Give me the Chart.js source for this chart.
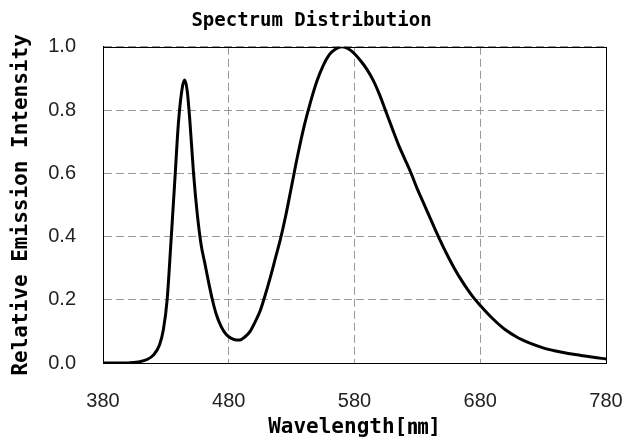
<!DOCTYPE html>
<html>
<head>
<meta charset="utf-8">
<script src="https://cdn.jsdelivr.net/npm/chart.js@4"></script>
<style>
  html, body { margin: 0; padding: 0; background: #fff; }
  #wrap { width: 623px; height: 446px; }
</style>
</head>
<body>
<div id="wrap"><canvas id="c" width="623" height="446"></canvas></div>
<script>
const wavelengths = [380,390,400,405,410,415,420,425,428,431,434,437,440,443,445,447,449,452,455,458,461,464,467,470,474,478,482,486,489,493,497,501,505,509,513,517,521,525,530,535,540,545,550,555,560,565,570,575,580,585,590,595,600,605,610,615,620,625,630,635,640,645,650,655,660,665,670,675,680,690,700,710,720,730,740,750,760,770,780];
const intensity = [0,0,0,0.002,0.005,0.011,0.025,0.058,0.105,0.2,0.38,0.57,0.76,0.87,0.895,0.86,0.77,0.60,0.47,0.375,0.315,0.255,0.20,0.155,0.115,0.09,0.078,0.073,0.073,0.083,0.10,0.13,0.165,0.215,0.27,0.33,0.39,0.46,0.56,0.66,0.75,0.825,0.89,0.94,0.975,0.993,1.0,0.994,0.978,0.955,0.928,0.893,0.848,0.795,0.742,0.69,0.645,0.60,0.55,0.505,0.46,0.415,0.372,0.332,0.295,0.262,0.232,0.205,0.182,0.14,0.105,0.08,0.062,0.048,0.038,0.03,0.024,0.018,0.013];
const xTicks = [380,480,580,680,780];
const yTicks = [0,0.2,0.4,0.6,0.8,1.0];
const titleText = 'Spectrum Distribution';
const xTitle = 'Wavelength[㎚]';
const yTitle = 'Relative Emission Intensity';

const points = wavelengths.map((w, i) => ({x: w, y: intensity[i]}));

const frame = {
  id: 'frame',
  afterDraw(chart) {
    const {ctx, chartArea: a} = chart;
    ctx.save();
    ctx.strokeStyle = '#000';
    ctx.lineWidth = 1;
    ctx.strokeRect(Math.round(a.left) + 0.5, Math.round(a.top) + 0.5, Math.round(a.right - a.left), Math.round(a.bottom - a.top));
    ctx.restore();
  }
};

const monoFont = "'DejaVu Sans Mono', 'Liberation Mono', 'Noto Sans CJK KR', monospace";
const tickFont = "'Liberation Sans', Arial, sans-serif";

new Chart(document.getElementById('c'), {
  type: 'line',
  data: {
    datasets: [{
      data: points,
      borderColor: '#000',
      borderWidth: 3,
      pointRadius: 0,
      fill: false,
      cubicInterpolationMode: 'monotone'
    }]
  },
  options: {
    responsive: false,
    animation: false,
    devicePixelRatio: 1,
    layout: { padding: { left: 0, right: 0, top: 0, bottom: 0 } },
    plugins: {
      legend: { display: false },
      tooltip: { enabled: false },
      title: {
        display: true,
        text: titleText,
        color: '#000',
        font: { family: monoFont, size: 19, weight: 'bold' },
        padding: { top: 10, bottom: 14 }
      }
    },
    scales: {
      x: {
        type: 'linear',
        min: 380, max: 780,
        afterBuildTicks(scale) { scale.ticks = xTicks.map(v => ({value: v})); },
        afterFit(scale) { scale.height = 83; scale.paddingLeft = 0; scale.paddingRight = 17; },
        grid: { color: '#999', lineWidth: 1, drawTicks: false },
        border: { display: true, color: '#000', dash: [8, 4] },
        ticks: {
          color: '#222',
          font: { family: tickFont, size: 20 },
          padding: 26,
          maxRotation: 0,
          callback: v => String(v)
        },
        title: {
          display: true,
          text: xTitle,
          color: '#000',
          font: { family: monoFont, size: 21, weight: 'bold' },
          padding: { top: 0, bottom: 6 }
        }
      },
      y: {
        min: 0, max: 1,
        afterBuildTicks(scale) { scale.ticks = yTicks.map(v => ({value: v})); },
        afterFit(scale) { scale.width = 103; scale.paddingTop = 0; scale.paddingBottom = 0; },
        grid: { color: '#999', lineWidth: 1, drawTicks: false },
        border: { display: true, color: '#000', dash: [8, 4] },
        ticks: {
          color: '#222',
          font: { family: tickFont, size: 20 },
          padding: 27,
          callback: v => v.toFixed(1)
        },
        title: {
          display: true,
          text: yTitle,
          color: '#000',
          font: { family: monoFont, size: 21, weight: 'bold' },
          padding: { top: 9, bottom: 0 }
        }
      }
    }
  },
  plugins: [frame]
});
</script>
</body>
</html>
